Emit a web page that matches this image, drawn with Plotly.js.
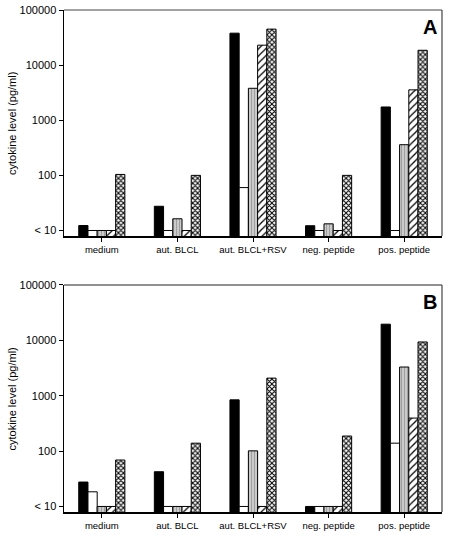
<!DOCTYPE html>
<html><head><meta charset="utf-8">
<script src="https://cdn.plot.ly/plotly-3.0.1.min.js"></script>
<style>html,body{margin:0;padding:0;background:#fff}</style>
</head><body><div id="chart" style="width:452px;height:540px"></div>
<script>
const categories = ["medium", "aut. BLCL", "aut. BLCL+RSV", "neg. peptide", "pos. peptide"];
const tickVals = [10, 100, 1000, 10000, 100000];
const tickText = ["< 10", "100", "1000", "10000", "100000"];
const yTitle = "cytokine level (pg/ml)";

// Panel A values (pg/ml); 10 = "< 10"
const a_s1 = [12.3, 27.5, 38000, 12.2, 1740];
const a_s2 = [10, 10, 60, 10, 10];
const a_s3 = [10, 16.3, 3800, 13.2, 360];
const a_s4 = [10, 10, 23000, 10, 3560];
const a_s5 = [104, 100, 45000, 100, 18600];

// Panel B values (pg/ml)
const b_s1 = [27.6, 42.4, 842, 10, 19600];
const b_s2 = [18.4, 10, 10, 10, 139];
const b_s3 = [10, 10, 101, 10, 3300];
const b_s4 = [10, 10, 10, 10, 395];
const b_s5 = [69, 139, 2080, 187, 9360];

const styles = [
  {color: "#000000", pattern: {shape: ""}},
  {color: "#ffffff", pattern: {shape: ""}},
  {color: "#c4c4c4", pattern: {shape: "|", fgcolor: "#9a9a9a", bgcolor: "#cacaca", size: 3, solidity: 0.3}},
  {color: "#ffffff", pattern: {shape: "/", fgcolor: "#000000", bgcolor: "#ffffff", size: 5, solidity: 0.25}},
  {color: "#ffffff", pattern: {shape: "x", fgcolor: "#000000", bgcolor: "#ffffff", size: 3.5, solidity: 0.5}}
];

function mk(vals, i, xa, ya) {
  return {
    type: "bar", x: categories, y: vals, xaxis: xa, yaxis: ya,
    showlegend: false, hoverinfo: "skip",
    marker: {color: styles[i].color, pattern: styles[i].pattern, line: {color: "#000", width: 1}}
  };
}
const data = [];
[a_s1, a_s2, a_s3, a_s4, a_s5].forEach((v, i) => data.push(mk(v, i, "x", "y")));
[b_s1, b_s2, b_s3, b_s4, b_s5].forEach((v, i) => data.push(mk(v, i, "x2", "y2")));

const font = {family: "Liberation Sans, Arial, sans-serif", color: "#000"};
function yax(dom, anchor) {
  return {
    type: "log", range: [0.9, 5], domain: dom, anchor: anchor,
    tickvals: tickVals, ticktext: tickText, ticks: "outside", ticklen: 4, tickcolor: "#000",
    showgrid: false, zeroline: false, showline: true, linecolor: "#000", linewidth: 1.5,
    tickfont: Object.assign({size: 11}, font)
  };
}
function xax(anchor) {
  return {
    anchor: anchor, domain: [0, 1], ticks: "outside", ticklen: 4, tickcolor: "#000",
    showgrid: false, zeroline: false, showline: true, linecolor: "#000", linewidth: 1.5,
    tickfont: Object.assign({size: 9.5}, font)
  };
}
const domA = [0.5498, 1], domB = [0, 0.4522];
const layout = {
  width: 452, height: 540,
  margin: {l: 64, r: 10, t: 10, b: 28},
  paper_bgcolor: "#fff", plot_bgcolor: "#fff",
  barmode: "group", bargap: 0.39, bargroupgap: 0,
  xaxis: xax("y"), yaxis: yax(domA, "x"),
  xaxis2: xax("y2"), yaxis2: yax(domB, "x2"),
  shapes: [
    {type: "line", xref: "paper", yref: "paper", x0: 0, x1: 1, y0: 1, y1: 1, line: {color: "#444", width: 1.2}},
    {type: "line", xref: "paper", yref: "paper", x0: 1, x1: 1, y0: domA[0], y1: 1, line: {color: "#444", width: 1.2}},
    {type: "line", xref: "paper", yref: "paper", x0: 0, x1: 1, y0: domB[1], y1: domB[1], line: {color: "#222", width: 1.2}},
    {type: "line", xref: "paper", yref: "paper", x0: 1, x1: 1, y0: 0, y1: domB[1], line: {color: "#444", width: 1.2}}
  ],
  annotations: [
    {text: "<b>A</b>", xref: "paper", yref: "paper", x: 0.992, y: 0.992, xanchor: "right", yanchor: "top", showarrow: false, font: Object.assign({size: 20}, font)},
    {text: "<b>B</b>", xref: "paper", yref: "paper", x: 0.992, y: domB[1] - 0.008, xanchor: "right", yanchor: "top", showarrow: false, font: Object.assign({size: 20}, font)},
    {text: yTitle, xref: "paper", yref: "paper", x: -0.1376, y: 0.775, xanchor: "center", yanchor: "middle", textangle: -90, showarrow: false, font: Object.assign({size: 11}, font)},
    {text: yTitle, xref: "paper", yref: "paper", x: -0.1376, y: 0.226, xanchor: "center", yanchor: "middle", textangle: -90, showarrow: false, font: Object.assign({size: 11}, font)}
  ]
};
Plotly.newPlot("chart", data, layout, {displayModeBar: false, staticPlot: true});
</script></body></html>
